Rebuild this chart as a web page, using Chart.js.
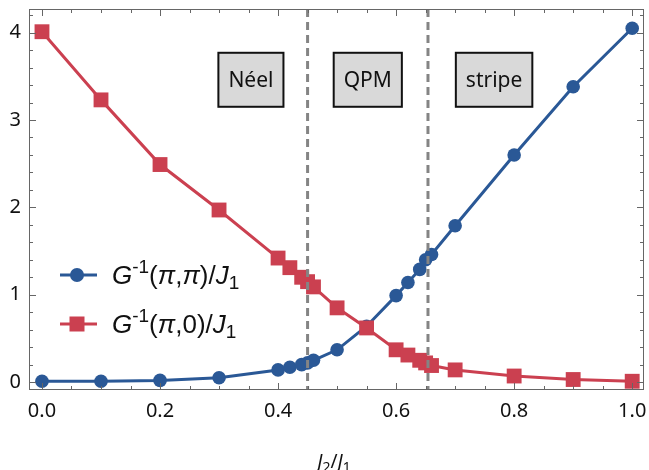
<!DOCTYPE html>
<html>
<head>
<meta charset="utf-8">
<script src="https://cdn.jsdelivr.net/npm/chart.js@4.4.1/dist/chart.umd.min.js"></script>
<style>
  html, body { margin: 0; padding: 0; background: #fff; }
  #wrap { width: 649px; height: 470px; }
</style>
</head>
<body>
<div id="wrap"><canvas id="chart"></canvas></div>
<script>
// data
const jRatio = [0, 0.1, 0.2, 0.3, 0.4, 0.42, 0.44, 0.45, 0.46, 0.5, 0.55, 0.6, 0.62, 0.64, 0.65, 0.66, 0.7, 0.8, 0.9, 1.0];
const gPiPi  = [0.01, 0.01, 0.02, 0.05, 0.14, 0.17, 0.20, 0.22, 0.25, 0.37, 0.64, 0.99, 1.14, 1.29, 1.40, 1.46, 1.79, 2.60, 3.38, 4.05];
const gPi0   = [4.01, 3.23, 2.49, 1.97, 1.42, 1.31, 1.20, 1.15, 1.09, 0.85, 0.62, 0.37, 0.31, 0.25, 0.22, 0.19, 0.14, 0.07, 0.03, 0.01];

const xTicks = [0, 0.2, 0.4, 0.6, 0.8, 1.0];
const yTicks = [0, 1, 2, 3, 4];

const phaseBounds = [0.45, 0.654];
const phaseNames  = ['Néel', 'QPM', 'stripe'];
const phaseX      = [0.354, 0.552, 0.766];
const phaseY      = 3.46;

// legend / axis text, split in parts for italics and sub/superscripts
const legendPiPi = [{t: 'G', it: true}, {t: '-1', sup: true}, {t: '('}, {t: 'π', it: true}, {t: ','}, {t: 'π', it: true}, {t: ')/'}, {t: 'J', it: true}, {t: '1', sub: true}];
const legendPi0  = [{t: 'G', it: true}, {t: '-1', sup: true}, {t: '('}, {t: 'π', it: true}, {t: ',0)/'}, {t: 'J', it: true}, {t: '1', sub: true}];
const xTitle     = [{t: 'J', it: true}, {t: '2', sub: true}, {t: '/'}, {t: 'J', it: true}, {t: '1', sub: true}];

const BLUE = '#2a5896';
const RED = '#cb4050';
const FONT = '"Noto Sans", sans-serif';
const LEGEND_FONT = '"Liberation Sans", Arial, sans-serif';

function drawRich(ctx, parts, x, y, size, align, family) {
  const fontOf = p => (p.it ? 'italic ' : '') + Math.round((p.sup || p.sub) ? size * 0.72 : size) + 'px ' + family;
  let w = 0;
  parts.forEach(p => { ctx.font = fontOf(p); w += ctx.measureText(p.t).width; });
  let cx = align === 'center' ? x - w / 2 : x;
  ctx.textAlign = 'left';
  ctx.textBaseline = 'alphabetic';
  ctx.fillStyle = '#111';
  parts.forEach(p => {
    ctx.font = fontOf(p);
    const dy = p.sup ? -size * 0.4 : (p.sub ? size * 0.22 : 0);
    ctx.fillText(p.t, cx, y + dy);
    cx += ctx.measureText(p.t).width;
  });
}

//frame with inward ticks, like Mathematica
const frameTicks = {
  id: 'frameTicks',
  afterDraw(chart) {
    const { ctx, chartArea: { left, right, top, bottom }, scales: { x, y } } = chart;
    ctx.save();
    ctx.strokeStyle = '#666';
    ctx.lineWidth = 1;
    ctx.strokeRect(left + 0.5, top + 0.5, right - left - 1, bottom - top - 1);
    const tick = (x1, y1, x2, y2) => { ctx.beginPath(); ctx.moveTo(x1, y1); ctx.lineTo(x2, y2); ctx.stroke(); };
    for (let v = 0; v <= 1.0001; v += 0.05) {
      const px = Math.round(x.getPixelForValue(v)) + 0.5;
      const major = xTicks.some(t => Math.abs(t - v) < 1e-6);
      const len = major ? 7 : 4;
      tick(px, bottom, px, bottom - len);
      tick(px, top, px, top + len);
    }
    for (let v = 0; v <= 4.2001; v += 0.2) {
      const py = Math.round(y.getPixelForValue(v)) + 0.5;
      const major = yTicks.some(t => Math.abs(t - v) < 1e-6);
      const len = major ? 7 : 4;
      tick(left, py, left + len, py);
      tick(right, py, right - len, py);
    }
    ctx.restore();
  }
};

// phase boundaries and phase labels
const phases = {
  id: 'phases',
  afterDatasetsDraw(chart) {
    const { ctx, chartArea: { top, bottom }, scales: { x, y } } = chart;
    ctx.save();
    ctx.strokeStyle = '#848484';
    ctx.lineWidth = 3;
    ctx.setLineDash([8, 5]);
    phaseBounds.forEach(b => {
      const px = x.getPixelForValue(b);
      ctx.beginPath();
      ctx.moveTo(px, top);
      ctx.lineTo(px, bottom);
      ctx.stroke();
    });
    ctx.setLineDash([]);
    ctx.font = '21px ' + FONT;
    phaseNames.forEach((name, i) => {
      const cx = x.getPixelForValue(phaseX[i]);
      const cy = y.getPixelForValue(phaseY);
      const w = ctx.measureText(name).width + 20;
      const h = 54;
      ctx.fillStyle = '#d9d9d9';
      ctx.fillRect(cx - w / 2, cy - h / 2, w, h);
      ctx.strokeStyle = '#111';
      ctx.lineWidth = 2;
      ctx.strokeRect(cx - w / 2, cy - h / 2, w, h);
      ctx.fillStyle = '#111';
      ctx.textAlign = 'center';
      ctx.textBaseline = 'middle';
      ctx.fillText(name, cx, cy + 1);
    });
    ctx.restore();
  }
};

// legend inside plot + axis title
const legendText = {
  id: 'legendText',
  afterDraw(chart) {
    const { ctx } = chart;
    ctx.save();
    const rows = [
      { parts: legendPiPi, color: BLUE, rect: false, y: 275 },
      { parts: legendPi0, color: RED, rect: true, y: 324 }
    ];
    rows.forEach(r => {
      ctx.strokeStyle = r.color;
      ctx.fillStyle = r.color;
      ctx.lineWidth = 3;
      ctx.beginPath();
      ctx.moveTo(60, r.y);
      ctx.lineTo(97, r.y);
      ctx.stroke();
      if (r.rect) {
        ctx.fillRect(77 - 7.5, r.y - 7.5, 15, 15);
      } else {
        ctx.beginPath();
        ctx.arc(77, r.y, 7, 0, Math.PI * 2);
        ctx.fill();
      }
      drawRich(ctx, r.parts, 112, r.y + 8.5, 26, 'left', LEGEND_FONT);
    });
    drawRich(ctx, xTitle, 334, 468, 19, 'center', FONT);
    ctx.restore();
  }
};

const ctx = document.getElementById('chart');
new Chart(ctx, {
  type: 'line',
  data: {
    datasets: [
      {
        label: 'G^-1(pi,pi)/J1',
        data: jRatio.map((v, i) => ({ x: v, y: gPiPi[i] })),
        borderColor: BLUE,
        backgroundColor: BLUE,
        borderWidth: 3,
        pointStyle: 'circle',
        pointRadius: 6.8,
        pointBorderWidth: 0,
        order: 2
      },
      {
        label: 'G^-1(pi,0)/J1',
        data: jRatio.map((v, i) => ({ x: v, y: gPi0[i] })),
        borderColor: RED,
        backgroundColor: RED,
        borderWidth: 3,
        pointStyle: 'rect',
        pointRadius: 10.5,
        pointBorderWidth: 0,
        order: 1
      }
    ]
  },
  options: {
    responsive: true,
    maintainAspectRatio: false,
    animation: false,
    layout: { autoPadding: false, padding: { top: 9, right: 5, left: 0, bottom: 0 } },
    plugins: {
      legend: { display: false },
      tooltip: { enabled: false }
    },
    scales: {
      x: {
        type: 'linear',
        min: -0.022,
        max: 1.02,
        afterBuildTicks: s => { s.ticks = xTicks.map(v => ({ value: v })); },
        afterFit: s => { s.height = 80; s.paddingLeft = 0; s.paddingRight = 0; },
        grid: { display: false, drawTicks: false },
        border: { display: false },
        ticks: {
          callback: v => v.toFixed(1),
          font: { family: FONT, size: 20 },
          color: '#111',
          padding: 9,
          maxRotation: 0
        }
      },
      y: {
        type: 'linear',
        min: -0.09,
        max: 4.27,
        afterBuildTicks: s => { s.ticks = yTicks.map(v => ({ value: v })); },
        afterFit: s => { s.width = 29; s.paddingTop = 0; s.paddingBottom = 0; },
        grid: { display: false, drawTicks: false },
        border: { display: false },
        ticks: {
          callback: v => String(v),
          font: { family: FONT, size: 20 },
          color: '#111',
          padding: 8
        }
      }
    }
  },
  plugins: [phases, frameTicks, legendText]
});
</script>
</body>
</html>
